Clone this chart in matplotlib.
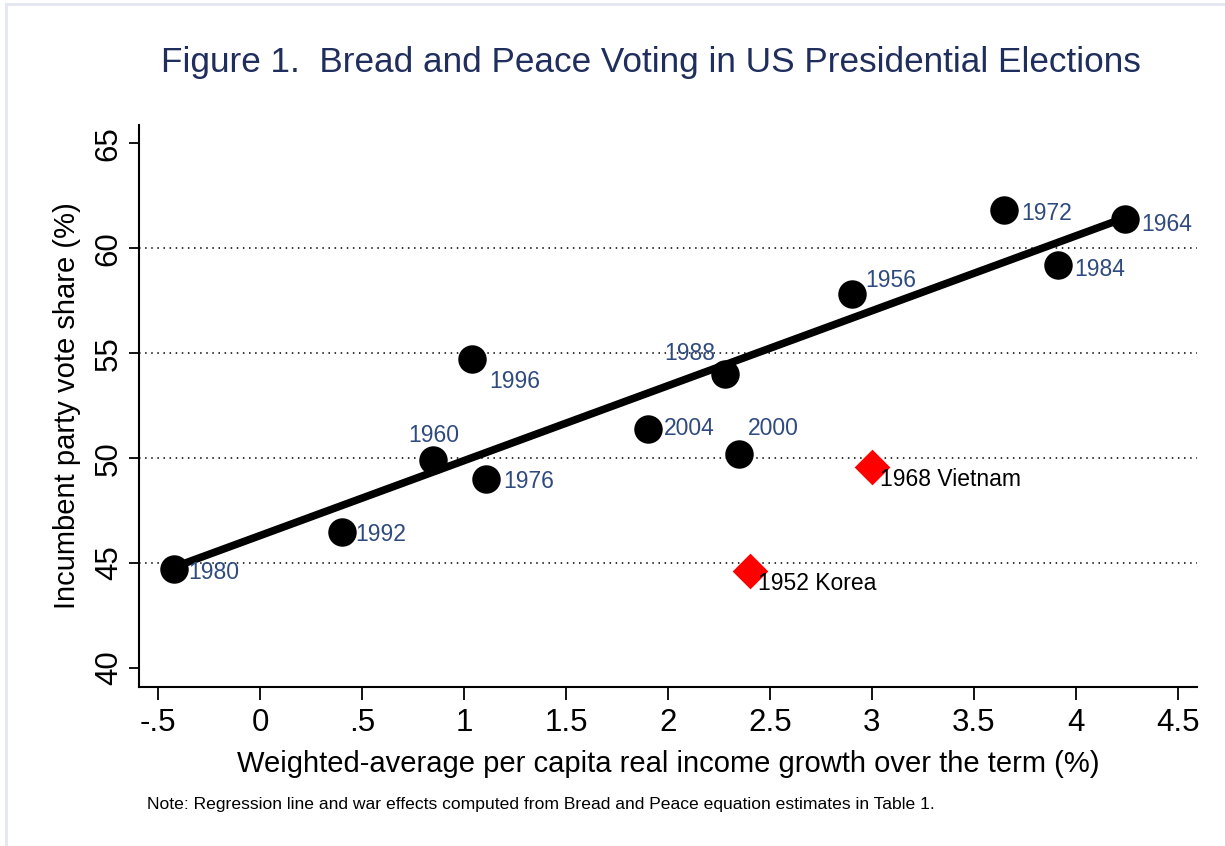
import matplotlib
matplotlib.use("Agg")
import matplotlib.pyplot as plt
from matplotlib.lines import Line2D

plt.rcParams["font.family"] = ["Liberation Sans", "DejaVu Sans"]

# peace-time elections: income growth (%) vs incumbent vote share (%)
years = ["1980", "1992", "1960", "1976", "1996", "2004", "2000", "1988",
         "1956", "1972", "1984", "1964"]
growth = [-0.42, 0.40, 0.85, 1.11, 1.04, 1.90, 2.35, 2.28, 2.90, 3.65, 3.91, 4.24]
vote = [44.7, 46.5, 49.9, 49.0, 54.7, 51.4, 50.2, 54.0, 57.8, 61.8, 59.2, 61.4]

# label offsets in points (dx, dy) and alignment
label_pos = {
    "1980": (10, -2, "left"), "1992": (10, -2, "left"), "1960": (0, 18, "center"),
    "1976": (12, -2, "left"), "1996": (12, -16, "left"), "2004": (12, 0, "left"),
    "2000": (6, 18, "left"), "1988": (-7, 15, "right"), "1956": (10, 10, "left"),
    "1972": (12, -2, "left"), "1984": (12, -3, "left"), "1964": (12, -4, "left"),
}

# war elections
war_labels = ["1968 Vietnam", "1952 Korea"]
war_growth = [3.00, 2.40]
war_vote = [49.6, 44.6]

# regression line
intercept = 46.31
slope = 3.57
line_x = [-0.42, 4.24]

xticks = [-0.5, 0, 0.5, 1, 1.5, 2, 2.5, 3, 3.5, 4, 4.5]
xticklabels = ["-.5", "0", ".5", "1", "1.5", "2", "2.5", "3", "3.5", "4", "4.5"]
yticks = [40, 45, 50, 55, 60, 65]

NAVY = "#1f2e5c"
LABEL = "#2f4a7e"

fig = plt.figure(figsize=(12.25, 8.46), dpi=100)
ax = fig.add_axes([0.1135, 0.188, 0.8635, 0.664])

for g in [45, 50, 55, 60]:
    ax.axhline(g, color="black", linestyle=(0, (1, 3)), linewidth=1.1, zorder=1)

ax.plot(line_x, [intercept + slope * x for x in line_x], color="black",
        linewidth=5.5, solid_capstyle="butt", zorder=2)
ax.scatter(growth, vote, s=420, color="black", zorder=3, linewidths=0)
ax.scatter(war_growth, war_vote, s=330, marker="D", color="#ff0000", zorder=3,
           linewidths=0)

for yr, x, y in zip(years, growth, vote):
    dx, dy, ha = label_pos[yr]
    ax.annotate(yr, (x, y), xytext=(dx, dy), textcoords="offset points",
                ha=ha, va="center", fontsize=16.5, color=LABEL, zorder=4)

for lab, x, y in zip(war_labels, war_growth, war_vote):
    ax.annotate(lab, (x, y), xytext=(6, -9), textcoords="offset points",
                ha="left", va="center", fontsize=16.5, color="black", zorder=4)

ax.set_xlim(-0.593, 4.593)
ax.set_ylim(39.1, 65.86)
ax.set_xticks(xticks)
ax.set_xticklabels(xticklabels)
ax.set_yticks(yticks)
ax.set_yticklabels([str(t) for t in yticks], rotation=90, va="center")
ax.tick_params(axis="x", length=9, width=1.3, labelsize=22.5, pad=6)
ax.tick_params(axis="y", length=7, width=1.3, labelsize=22.5, pad=4)
for side in ["top", "right"]:
    ax.spines[side].set_visible(False)
for side in ["left", "bottom"]:
    ax.spines[side].set_linewidth(1.5)

ax.set_xlabel("Weighted-average per capita real income growth over the term (%)",
              fontsize=21, labelpad=9)
ax.set_ylabel("Incumbent party vote share (%)", fontsize=21, labelpad=9)

fig.text(0.531, 0.926, "Figure 1.  Bread and Peace Voting in US Presidential Elections",
         ha="center", va="center", fontsize=25.3, color=NAVY)
fig.text(0.120, 0.0485,
         "Note: Regression line and war effects computed from Bread and Peace equation estimates in Table 1.",
         ha="left", va="center", fontsize=12.6, color="black")

# light outer frame (left and top edges)
fig.add_artist(Line2D([0.0045, 0.0045], [0, 0.995], transform=fig.transFigure,
                      color="#e3e7f1", linewidth=2))
fig.add_artist(Line2D([0.0045, 1], [0.995, 0.995], transform=fig.transFigure,
                      color="#e3e7f1", linewidth=2))

fig.savefig("out.png", dpi=100)
